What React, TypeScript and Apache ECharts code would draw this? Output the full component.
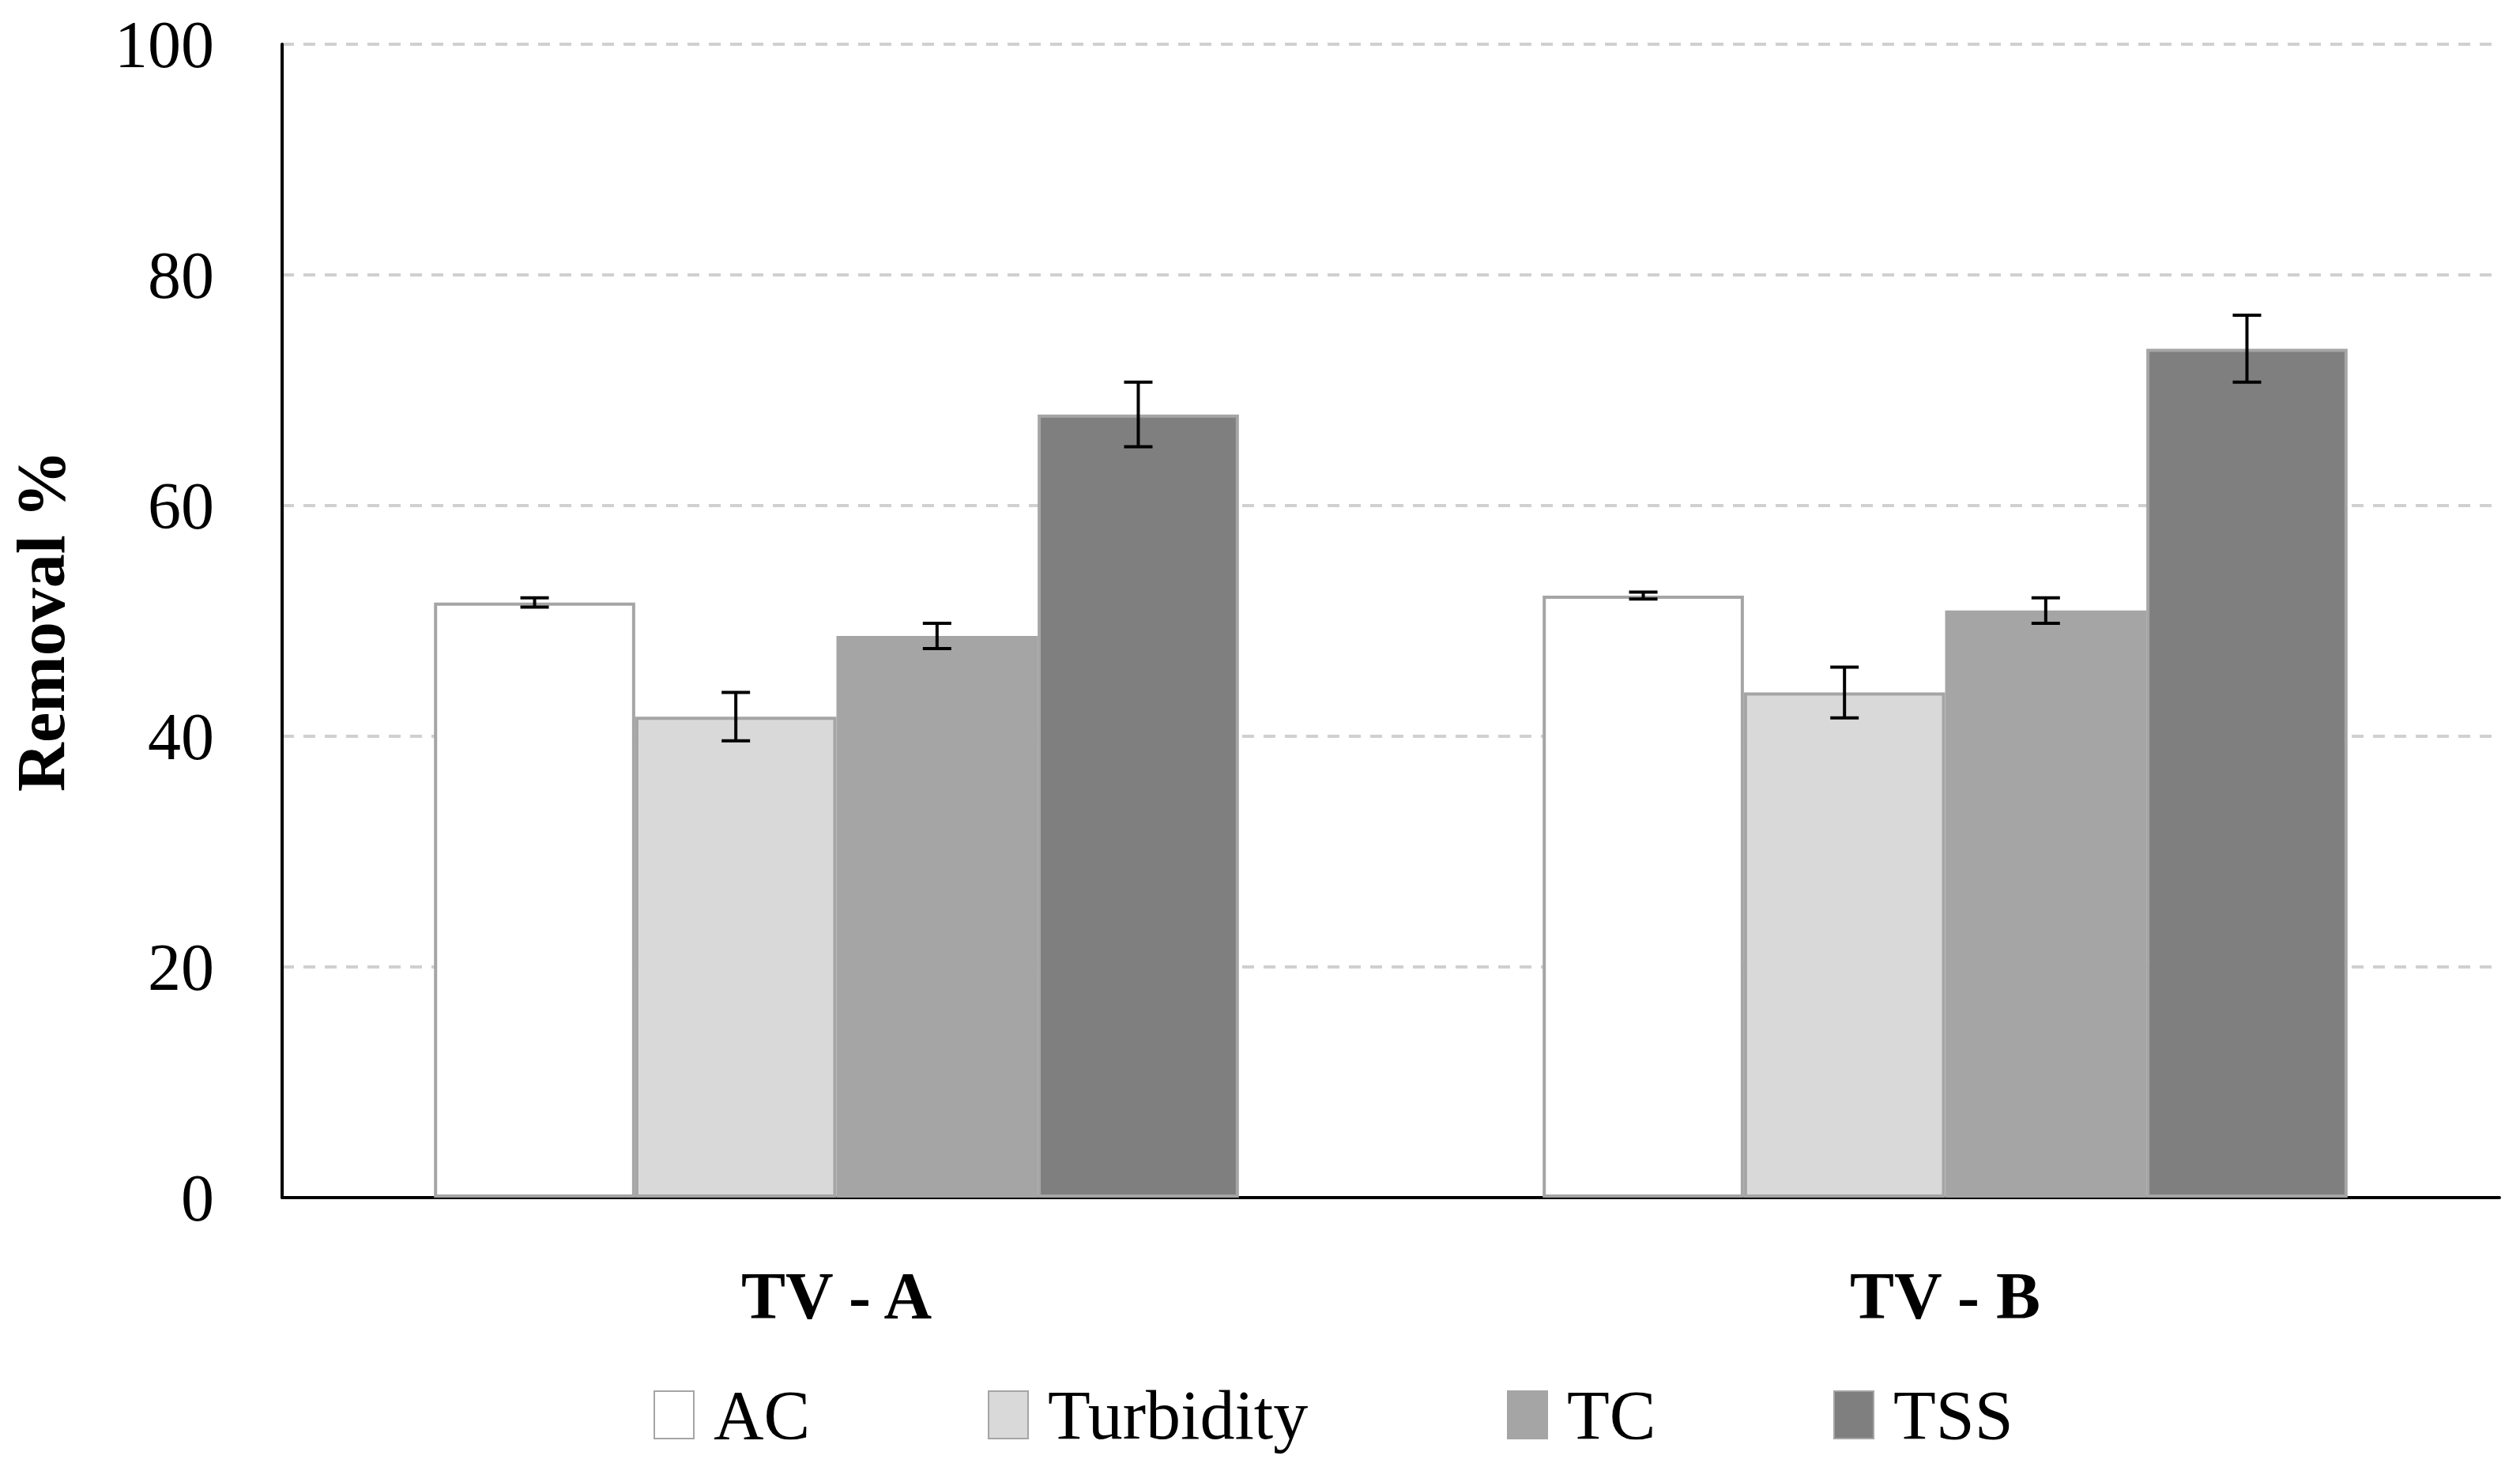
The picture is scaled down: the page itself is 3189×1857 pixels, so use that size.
import React, { useEffect, useRef } from "react";
import * as echarts from "echarts";

const categories = ["TV - A", "TV - B"];
const seriesNames = ["AC", "Turbidity", "TC", "TSS"];
const acValues = [51.6, 52.2];
const acErrors = [0.4, 0.3];
const turbidityValues = [41.7, 43.8];
const turbidityErrors = [2.1, 2.2];
const tcValues = [48.7, 50.9];
const tcErrors = [1.1, 1.1];
const tssValues = [67.9, 73.6];
const tssErrors = [2.8, 2.9];
const yMin = 0;
const yMax = 100;
const yInterval = 20;

const FONT = "Liberation Serif";
const CAT_GAP = 0.274;
const fills = ["#ffffff", "#d9d9d9", "#a5a5a5", "#7f7f7f"];
const legendLefts = [822, 1245, 1902, 2315];

export default function App() {
  const ref = useRef<HTMLDivElement>(null);
  useEffect(() => {
    if (!ref.current) return;
    const chart = echarts.init(ref.current, undefined, { renderer: "svg" });
    const values = [acValues, turbidityValues, tcValues, tssValues];
    const errors = [acErrors, turbidityErrors, tcErrors, tssErrors];

    const barSeries = seriesNames.map((name, i) => ({
      name,
      type: "bar",
      data: values[i],
      barGap: "0%",
      barCategoryGap: CAT_GAP * 100 + "%",
      itemStyle: { color: fills[i], borderColor: "#a5a5a5", borderWidth: 4 },
      z: 2,
    }));

    const errSeries = seriesNames.map((name, i) => ({
      name: name + " error",
      type: "custom",
      z: 5,
      encode: { x: 0, y: 1 },
      data: values[i].map((v, k) => [k, v, errors[i][k]]),
      renderItem: (params: any, api: any) => {
        const cat = api.value(0);
        const val = api.value(1);
        const err = api.value(2);
        const band = api.size([1, 0])[0];
        const barW = (band * (1 - CAT_GAP)) / 4;
        const x = api.coord([cat, val])[0] + (i - 1.5) * barW;
        const yTop = api.coord([cat, val + err])[1];
        const yBot = api.coord([cat, val - err])[1];
        const cap = 18;
        const st = { stroke: "#000", lineWidth: 4 };
        return {
          type: "group",
          children: [
            { type: "line", shape: { x1: x, y1: yTop, x2: x, y2: yBot }, style: st },
            { type: "line", shape: { x1: x - cap, y1: yTop, x2: x + cap, y2: yTop }, style: st },
            { type: "line", shape: { x1: x - cap, y1: yBot, x2: x + cap, y2: yBot }, style: st },
          ],
        };
      },
    }));

    const legends = seriesNames.map((name, i) => ({
      data: [name],
      left: legendLefts[i],
      top: 1742,
      itemWidth: 50,
      itemHeight: 60,
      icon: "rect",
      selectedMode: false,
      textStyle: {
        fontFamily: FONT,
        fontSize: 88,
        color: "#000",
        padding: [0, 0, 0, 20],
      },
    }));

    chart.setOption({
      animation: false,
      backgroundColor: "#ffffff",
      textStyle: { fontFamily: FONT },
      legend: legends,
      grid: { left: 357, right: 26, top: 56, bottom: 341, containLabel: false },
      xAxis: {
        type: "category",
        data: categories,
        axisTick: { show: false },
        axisLine: { show: true, lineStyle: { color: "#000", width: 4 } },
        axisLabel: {
          fontFamily: FONT,
          fontSize: 84,
          fontWeight: "bold",
          color: "#000",
          margin: 82,
        },
      },
      yAxis: {
        type: "value",
        min: yMin,
        max: yMax,
        interval: yInterval,
        name: "Removal %",
        nameLocation: "middle",
        nameGap: 262,
        nameTextStyle: {
          fontFamily: FONT,
          fontSize: 86,
          fontWeight: "bold",
          color: "#000",
        },
        axisLine: { show: true, lineStyle: { color: "#000", width: 4 } },
        axisTick: { show: false },
        axisLabel: {
          fontFamily: FONT,
          fontSize: 84,
          color: "#000",
          margin: 86,
        },
        splitLine: {
          show: true,
          lineStyle: { type: [15, 12], color: "#d0d0d0", width: 4 },
        },
      },
      series: [...barSeries, ...errSeries],
    });
    return () => chart.dispose();
  }, []);
  return (
    <div
      ref={ref}
      style={{ position: "fixed", left: 0, top: 0, width: 3189, height: 1857, background: "#fff" }}
    />
  );
}
